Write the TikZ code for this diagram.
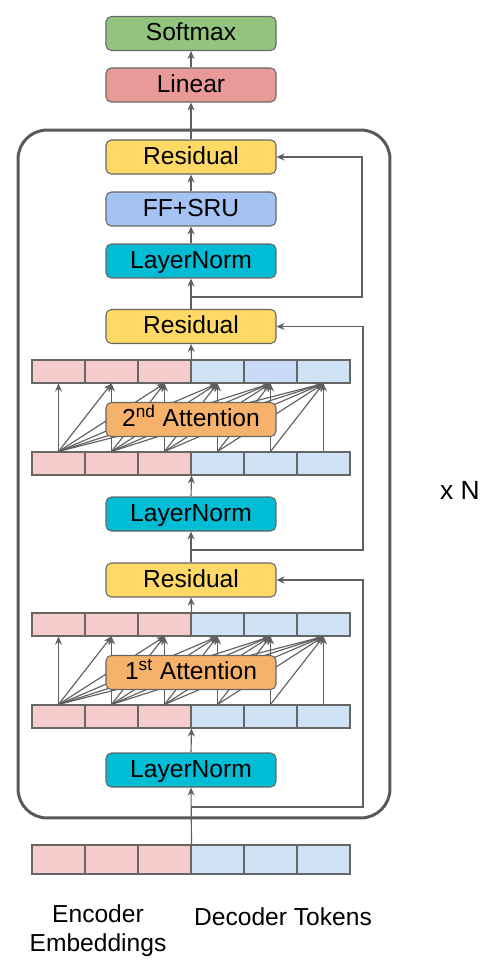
\documentclass[tikz,border=0pt]{standalone}
\usepackage{fontspec}
\setsansfont{Liberation Sans}
\usetikzlibrary{arrows.meta}
\definecolor{edge}{HTML}{666666}
\definecolor{wire}{HTML}{5F5F5F}
\definecolor{frame}{HTML}{595959}
\definecolor{green}{HTML}{93C47D}
\definecolor{rose}{HTML}{EA9999}
\definecolor{yellow}{HTML}{FFD966}
\definecolor{sky}{HTML}{A4C2F4}
\definecolor{cyan}{HTML}{00BCD4}
\definecolor{orange}{HTML}{F6B26B}
\definecolor{enc}{HTML}{F4CCCC}
\definecolor{dec}{HTML}{CFE2F3}
\definecolor{decalt}{HTML}{C9DAF8}

\begin{document}
\begin{tikzpicture}[
  x=0.02cm,y=-0.02cm,
  font=\sffamily\fontsize{14}{16.5}\selectfont,
  block/.style={rounded corners=3pt,draw=edge,line width=.6pt,minimum width=3.4cm,minimum height=0.68cm,inner sep=0pt,text height=0.8em,text depth=0em},
  cell/.style={draw=edge,line width=.6pt,minimum width=1.06cm,minimum height=0.46cm,inner sep=0pt},
  arrow/.style={-{Stealth[length=1.6mm,width=1.4mm]},line width=.65pt,draw=wire},
  line/.style={line width=.65pt,draw=wire}
]
\useasboundingbox (0,0) rectangle (499,976);

% repeated decoder block
\node[draw=frame,line width=1.7pt,rounded corners=0.58cm,minimum width=7.44cm,minimum height=13.76cm] (layer) at (204,474) {};
\node[font=\sffamily\fontsize{15}{18}\selectfont] (times) at (460,490) {x N};

\node[block,fill=green] (softmax) at (191,33.5) {Softmax};
\node[block,fill=rose] (linear) at (191,85) {Linear};
\node[block,fill=yellow] (res3) at (191,157) {Residual};
\node[block,fill=sky] (ffsru) at (191,209) {FF+SRU};
\node[block,fill=cyan] (ln3) at (191,261) {LayerNorm};
\node[block,fill=yellow] (res2) at (191,326.5) {Residual};
\node[block,fill=cyan] (ln2) at (191,514) {LayerNorm};
\node[block,fill=yellow] (res1) at (191,580) {Residual};
\node[block,fill=cyan] (ln1) at (191,770) {LayerNorm};

% token rows
\foreach \i/\c in {0/enc,1/enc,2/enc,3/dec,4/decalt,5/dec}
  \node[cell,fill=\c] (p2t\i) at ({58.5+53*\i},371.5) {};
\foreach \i/\c in {0/enc,1/enc,2/enc,3/dec,4/dec,5/dec} {
  \node[cell,fill=\c] (p2b\i) at ({58.5+53*\i},463.5) {};
  \node[cell,fill=\c] (p1t\i) at ({58.5+53*\i},624.5) {};
  \node[cell,fill=\c] (p1b\i) at ({58.5+53*\i},716.5) {};
  \node[cell,fill=\c,minimum height=0.58cm] (in\i) at ({58.5+53*\i},859.5) {};
}

% causal attention links
\foreach \i in {0,...,5}
  \foreach \j in {0,...,\i} {
    \draw[arrow] (p1b\j.north) -- (p1t\i.south);
    \draw[arrow] (p2b\j.north) -- (p2t\i.south);
  }
\node[block,fill=orange] (att1) at (191,672.5) {1\textsuperscript{st} Attention};
\node[block,fill=orange] (att2) at (191,419.5) {2\textsuperscript{nd} Attention};

% main path
\draw[arrow] (in2.north east) -- (ln1.south);
\draw[arrow] (ln1.north) -- (p1b2.south east);
\draw[arrow] (p1t2.north east) -- (res1.south);
\draw[arrow] (res1.north) -- (ln2.south);
\draw[arrow] (ln2.north) -- (p2b2.south east);
\draw[arrow] (p2t2.north east) -- (res2.south);
\draw[arrow] (res2.north) -- (ln3.south);
\draw[arrow] (ln3) -- (ffsru);
\draw[arrow] (ffsru) -- (res3);
\draw[arrow] (res3) -- (linear);
\draw[arrow] (linear) -- (softmax);

% residual skips
\coordinate (sk1) at (191,807);
\coordinate (sk1r) at (363,807);
\coordinate (sk2) at (191,550);
\coordinate (sk2r) at (363,550);
\coordinate (sk3) at (191,297);
\coordinate (sk3r) at (362,297);
\draw[arrow] (sk1) -- (sk1r) |- (res1.east);
\draw[arrow] (sk2) -- (sk2r) |- (res2.east);
\draw[arrow] (sk3) -- (sk3r) |- (res3.east);

\node[align=center] (enclabel) at (98,930.5) {Encoder\\Embeddings};
\node (declabel) at (283,917) {Decoder Tokens};
\end{tikzpicture}
\end{document}
